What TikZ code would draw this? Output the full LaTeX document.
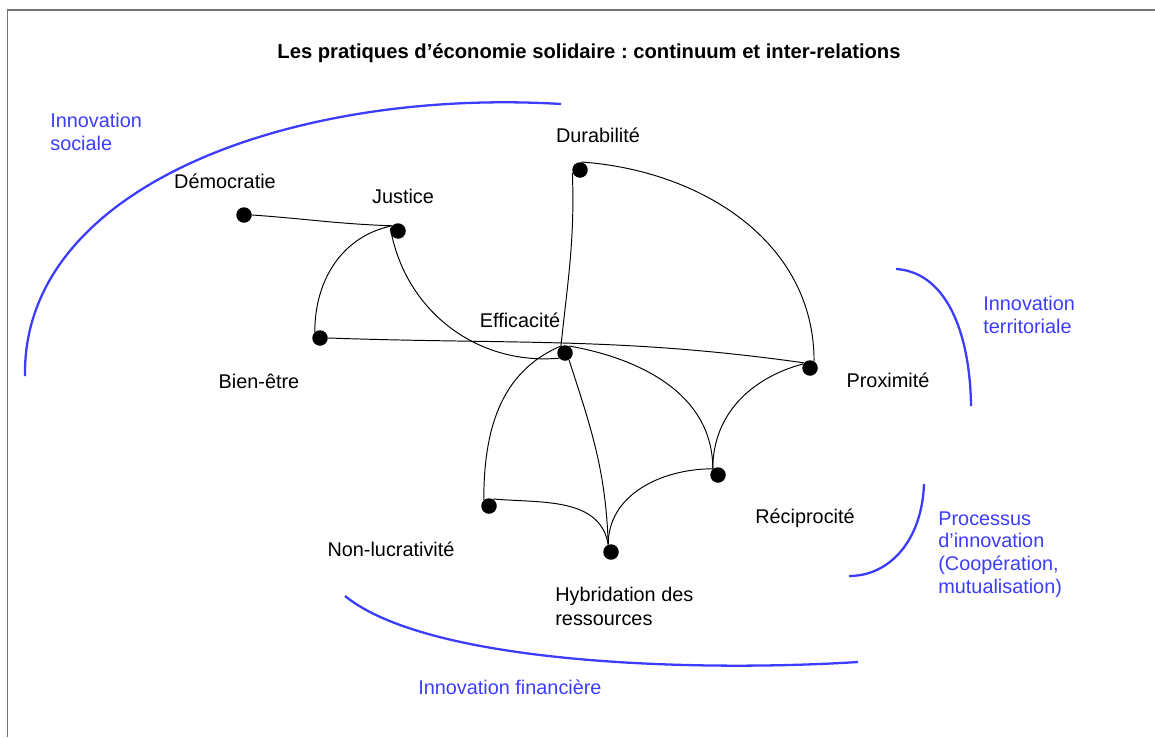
\documentclass[tikz,border=0pt]{standalone}
\usepackage{fontspec}
\setmainfont{Liberation Sans}
\frenchspacing
\definecolor{innoblue}{RGB}{60,60,255}
\definecolor{framegray}{RGB}{115,115,115}
\tikzset{
	dot/.style={circle,fill=black,inner sep=0pt,minimum size=0.31cm},
	lbl/.style={font=\fontsize{11.3}{13.5}\selectfont,inner sep=0pt,align=left},
	inno/.style={font=\fontsize{11.3}{12.9}\selectfont,text=innoblue,inner sep=0pt,align=left,anchor=north west},
	innoarc/.style={innoblue,line width=1.3pt},
	link/.style={black,line width=0.55pt}
}
\begin{document}
\begin{tikzpicture}[x=0.02cm,y=0.02cm]
			\useasboundingbox (0,0) rectangle (1155,-737);
			\draw[framegray,line width=1.1pt] (7.5,-737) -- (7.5,-10) -- (1155,-10);
			
			\node[font=\bfseries\fontsize{11.5}{13}\selectfont,inner sep=0pt] (title) at (589,-53){Les pratiques d’économie solidaire : continuum et inter-relations};
			
			\node[dot] (dem) at (244,-215){};
			\node[dot] (jus) at (398,-231){};
			\node[dot] (dur) at (580,-170){};
			\node[dot] (eff) at (565,-353){};
			\node[dot] (bien) at (320,-338){};
			\node[dot] (prox) at (810,-368){};
			\node[dot] (reci) at (718,-475){};
			\node[dot] (nonl) at (489,-506){};
			\node[dot] (hyb) at (611,-552){};
			
			\node[lbl] (dem-l) at (225,-181){Démocratie};
			\node[lbl] (jus-l) at (403,-196){Justice};
			\node[lbl] (dur-l) at (598,-135){Durabilité};
			\node[lbl] (eff-l) at (520,-320){Efficacité};
			\node[lbl] (bien-l) at (259,-381){Bien-être};
			\node[lbl] (prox-l) at (888,-380){Proximité};
			\node[lbl] (reci-l) at (805,-518){Réciprocité};
			\node[lbl] (nonl-l) at (391,-549){Non-lucrativité};
			\node[lbl,anchor=north west] (hyb-l) at (555,-587){Hybridation des\\ressources};
			
			\draw[link] (dem.east) to[out=-4,in=178] (jus.140);
			\draw[link] (jus.140) to[out=192,in=90] (bien.130);
			\draw[link] (jus.160) to[out=-80,in=185] (eff.220);
			\draw[link] (bien.east) to[out=-2,in=172] (prox.140);
			\draw[link] (dur.200) to[out=-88,in=84] (eff.120);
			\draw[link] (dur.80) to[out=-4,in=90] (prox.60);
			\draw[link] (eff.120) to[out=203,in=90] (nonl.130);
			\draw[link] (eff.-60) to[out=-72,in=92] (hyb.110);
			\draw[link] (eff.60) to[out=-10,in=90] (reci.130);
			\draw[link] (prox.150) to[out=195,in=90] (reci.130);
			\draw[link] (reci.130) to[out=180,in=90] (hyb.110);
			\draw[link] (nonl.60) to[out=-5,in=100] (hyb.110);
			
			\draw[innoarc] (25,-376) .. controls (22,-185) and (295,-88) .. (561,-104);
			\draw[innoarc] (896,-269) .. controls (945,-272) and (970,-330) .. (971,-406);
			\draw[innoarc] (924,-484) .. controls (922,-540) and (890,-576) .. (849,-576);
			\draw[innoarc] (345,-596) .. controls (430,-665) and (700,-672) .. (858,-662);
			
			\node[inno] (soc) at (50,-113){Innovation\\sociale};
			\node[inno] (terr) at (983,-296){Innovation\\territoriale};
			\node[inno] (proc) at (938,-511){Processus\\d’innovation\\(Coopération,\\mutualisation)};
			\node[inno] (fin) at (418,-680){Innovation financière};
		\end{tikzpicture}
\end{document}
